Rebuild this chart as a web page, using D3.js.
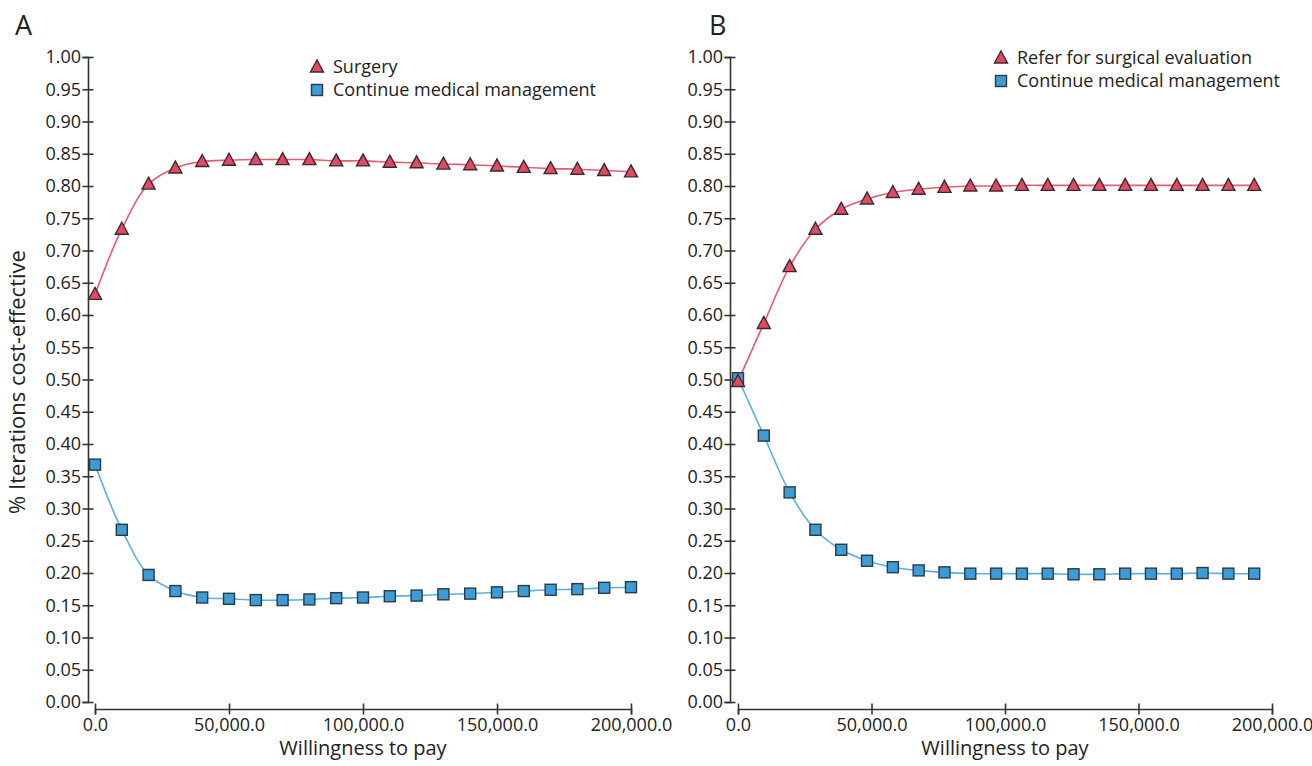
<!DOCTYPE html>
<html>
<head>
<meta charset="utf-8">
<script src="https://cdn.jsdelivr.net/npm/d3@7"></script>
<style>
  body { margin: 0; background: #fff; }
  svg { display: block; font-family: "Open Sans", sans-serif; }
</style>
</head>
<body>
<svg id="chart" width="1312" height="766"></svg>
<script>
// ---------------- data ----------------
const xA = [0, 10000, 20000, 30000, 40000, 50000, 60000, 70000, 80000, 90000, 100000,
            110000, 120000, 130000, 140000, 150000, 160000, 170000, 180000, 190000, 200000];
const surgeryA = [0.632, 0.733, 0.803, 0.828, 0.838, 0.840, 0.841, 0.841, 0.841, 0.839, 0.839,
                  0.837, 0.836, 0.834, 0.833, 0.831, 0.829, 0.827, 0.826, 0.824, 0.822];
const medicalA = [0.368, 0.267, 0.197, 0.172, 0.162, 0.160, 0.158, 0.158, 0.159, 0.161, 0.162,
                  0.164, 0.165, 0.167, 0.168, 0.170, 0.172, 0.174, 0.175, 0.177, 0.178];

const xB = [0, 9667, 19333, 29000, 38667, 48333, 58000, 67667, 77333, 87000, 96667,
            106333, 116000, 125667, 135333, 145000, 154667, 164333, 174000, 183667, 193333];
const referB = [0.497, 0.587, 0.675, 0.733, 0.764, 0.780, 0.790, 0.795, 0.798, 0.800, 0.800,
                0.801, 0.801, 0.801, 0.801, 0.801, 0.801, 0.801, 0.801, 0.801, 0.801];
const medicalB = [0.502, 0.413, 0.325, 0.267, 0.236, 0.219, 0.209, 0.204, 0.201, 0.199, 0.199,
                  0.199, 0.199, 0.198, 0.198, 0.199, 0.199, 0.199, 0.200, 0.199, 0.199];

const yTicks = [0, 0.05, 0.10, 0.15, 0.20, 0.25, 0.30, 0.35, 0.40, 0.45, 0.50,
                0.55, 0.60, 0.65, 0.70, 0.75, 0.80, 0.85, 0.90, 0.95, 1.00];
const xTicks = [0, 50000, 100000, 150000, 200000];

const panels = [
  { letter: "A", x: xA, s1: surgeryA, s2: medicalA,
    l1: "Surgery", l2: "Continue medical management" },
  { letter: "B", x: xB, s1: referB, s2: medicalB,
    l1: "Refer for surgical evaluation", l2: "Continue medical management" }
];

// ---------------- layout ----------------
const layouts = [
  { yAxisX: 88, x0: 95, x1: 631, letterX: 15, legX: 317, legY: 67 },
  { yAxisX: 730, x0: 738, x1: 1272, letterX: 709, legX: 1001, legY: 58 }
];
const yTop = 57, yBot = 702, xAxisY = 709;

const RED_FILL = "#e24a62", RED_LINE = "#ea5a72";
const BLUE_FILL = "#3c9cd8", BLUE_LINE = "#5cb0e2";
const AXIS = "#333";

const svg = d3.select("#chart");

function triPath(cx, cy, w, h) {
  return `M${cx},${cy - h * 0.58}L${cx + w / 2},${cy + h * 0.42}L${cx - w / 2},${cy + h * 0.42}Z`;
}

panels.forEach((p, i) => {
  const L = layouts[i];
  const x = d3.scaleLinear().domain([0, 200000]).range([L.x0, L.x1]);
  const y = d3.scaleLinear().domain([0, 1]).range([yBot, yTop]);
  const g = svg.append("g");

  // y axis
  const ya = g.append("g").attr("transform", `translate(${L.yAxisX},0)`)
    .call(d3.axisLeft(y).tickValues(yTicks).tickFormat(d3.format(".2f")).tickSizeOuter(0).tickSize(5.5));
  ya.select(".domain").attr("stroke", AXIS).attr("stroke-width", 1.6);
  ya.selectAll(".tick line").attr("x1", -5.5).attr("x2", 5.5).attr("stroke", AXIS).attr("stroke-width", 1.6);
  ya.selectAll(".tick text").attr("x", -7).attr("font-size", 18).attr("fill", "#222")
    .attr("font-family", "Open Sans");

  // x axis
  const xa = g.append("g").attr("transform", `translate(0,${xAxisY})`)
    .call(d3.axisBottom(x).tickValues(xTicks).tickFormat(d3.format(",.1f")).tickSizeOuter(0).tickSize(5.5));
  xa.select(".domain").attr("stroke", AXIS).attr("stroke-width", 1.6);
  xa.selectAll(".tick line").attr("y1", -5.5).attr("y2", 5.5).attr("stroke", AXIS).attr("stroke-width", 1.6);
  xa.selectAll(".tick text").attr("y", 9).attr("font-size", 18).attr("fill", "#222")
    .attr("font-family", "Open Sans");

  // x title
  g.append("text").attr("x", (L.x0 + L.x1) / 2).attr("y", 755)
    .attr("text-anchor", "middle").attr("font-size", 20).attr("fill", "#222")
    .text("Willingness to pay");

  // panel letter
  g.append("text").attr("x", L.letterX).attr("y", 35)
    .attr("font-size", 27).attr("fill", "#222").text(p.letter);

  const line = d3.line().curve(d3.curveCatmullRom.alpha(0.5));
  const pts1 = p.x.map((v, k) => [x(v), y(p.s1[k])]);
  const pts2 = p.x.map((v, k) => [x(v), y(p.s2[k])]);

  g.append("path").attr("d", line(pts2)).attr("fill", "none")
    .attr("stroke", BLUE_LINE).attr("stroke-width", 1.6);
  g.append("path").attr("d", line(pts1)).attr("fill", "none")
    .attr("stroke", RED_LINE).attr("stroke-width", 1.6);

  g.selectAll(".sq").data(pts2).enter().append("rect")
    .attr("x", d => d[0] - 5.5).attr("y", d => d[1] - 5.5)
    .attr("width", 11).attr("height", 11)
    .attr("fill", BLUE_FILL).attr("stroke", "#2a3a44").attr("stroke-width", 1.4);
  g.selectAll(".tri").data(pts1).enter().append("path")
    .attr("d", d => triPath(d[0], d[1], 13, 12))
    .attr("fill", RED_FILL).attr("stroke", "#3a2a2e").attr("stroke-width", 1.4)
    .attr("stroke-linejoin", "miter");

  // legend
  g.append("path").attr("d", triPath(L.legX, L.legY, 13, 12))
    .attr("fill", RED_FILL).attr("stroke", "#3a2a2e").attr("stroke-width", 1.4);
  g.append("text").attr("x", L.legX + 16).attr("y", L.legY + 6)
    .attr("font-size", 18).attr("fill", "#222").text(p.l1);
  g.append("rect").attr("x", L.legX - 5.5).attr("y", L.legY + 23 - 5.5)
    .attr("width", 11).attr("height", 11)
    .attr("fill", BLUE_FILL).attr("stroke", "#2a3a44").attr("stroke-width", 1.4);
  g.append("text").attr("x", L.legX + 16).attr("y", L.legY + 23 + 6)
    .attr("font-size", 18).attr("fill", "#222").text(p.l2);
});

// y title
svg.append("text").attr("transform", "translate(25,382) rotate(-90)")
  .attr("text-anchor", "middle").attr("font-size", 22).attr("fill", "#222")
  .text("% Iterations cost-effective");
</script>
</body>
</html>
